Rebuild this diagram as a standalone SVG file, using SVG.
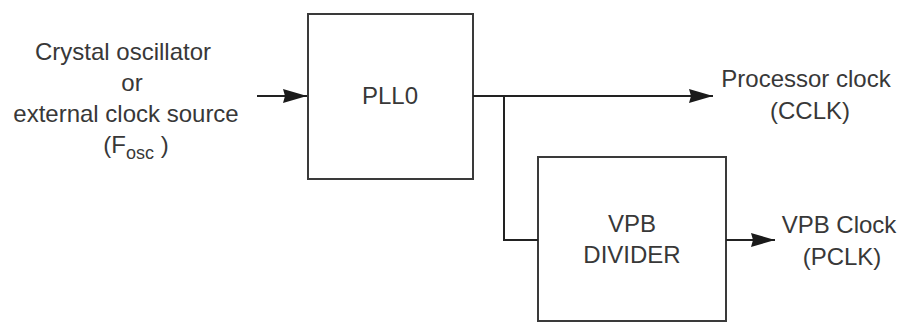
<svg xmlns="http://www.w3.org/2000/svg" width="898" height="323" viewBox="0 0 898 323">
  <style>
    .box { fill: #ffffff; stroke: #3a3a3a; stroke-width: 2; }
    .wire { fill: none; stroke: #222222; stroke-width: 2; }
    .lbl { font-family: "Liberation Sans", Arial, sans-serif; font-size: 24px; fill: #383838; text-anchor: middle; }
    .sub { font-size: 18px; }
  </style>
  <defs>
    <marker id="arrow" markerUnits="userSpaceOnUse" markerWidth="26" markerHeight="16" refX="24" refY="7" orient="auto">
      <path d="M0,0 L24,7 L0,14 L2,7 Z" fill="#1a1a1a"/>
    </marker>
  </defs>

  <rect width="898" height="323" fill="#ffffff"/>

  <!-- clock source label -->
  <g id="source">
    <text class="lbl" x="123" y="60">Crystal oscillator</text>
    <text class="lbl" x="132" y="91">or</text>
    <text class="lbl" x="126" y="122">external clock source</text>
    <text class="lbl" x="136" y="153">(F<tspan class="sub" dy="6">osc</tspan><tspan dy="-6"> )</tspan></text>
  </g>

  <!-- PLL0 block -->
  <g id="pll0">
    <rect class="box" x="308" y="14" width="165" height="165"/>
    <text class="lbl" x="390" y="104">PLL0</text>
  </g>

  <!-- VPB divider block -->
  <g id="vpb-divider">
    <rect class="box" x="538" y="157" width="188" height="164"/>
    <text class="lbl" x="632" y="232">VPB</text>
    <text class="lbl" x="632" y="263">DIVIDER</text>
  </g>

  <!-- output labels -->
  <g id="cclk">
    <text class="lbl" x="806" y="87">Processor clock</text>
    <text class="lbl" x="810" y="119">(CCLK)</text>
  </g>
  <g id="pclk">
    <text class="lbl" x="839" y="233">VPB Clock</text>
    <text class="lbl" x="842" y="265">(PCLK)</text>
  </g>

  <!-- connectors -->
  <g id="connectors">
    <line class="wire" x1="257" y1="96" x2="307" y2="96" marker-end="url(#arrow)"/>
    <line class="wire" x1="473" y1="96" x2="713" y2="96" marker-end="url(#arrow)"/>
    <polyline class="wire" points="504,96 504,240 538,240"/>
    <line class="wire" x1="726" y1="240" x2="775" y2="240" marker-end="url(#arrow)"/>
  </g>
</svg>
